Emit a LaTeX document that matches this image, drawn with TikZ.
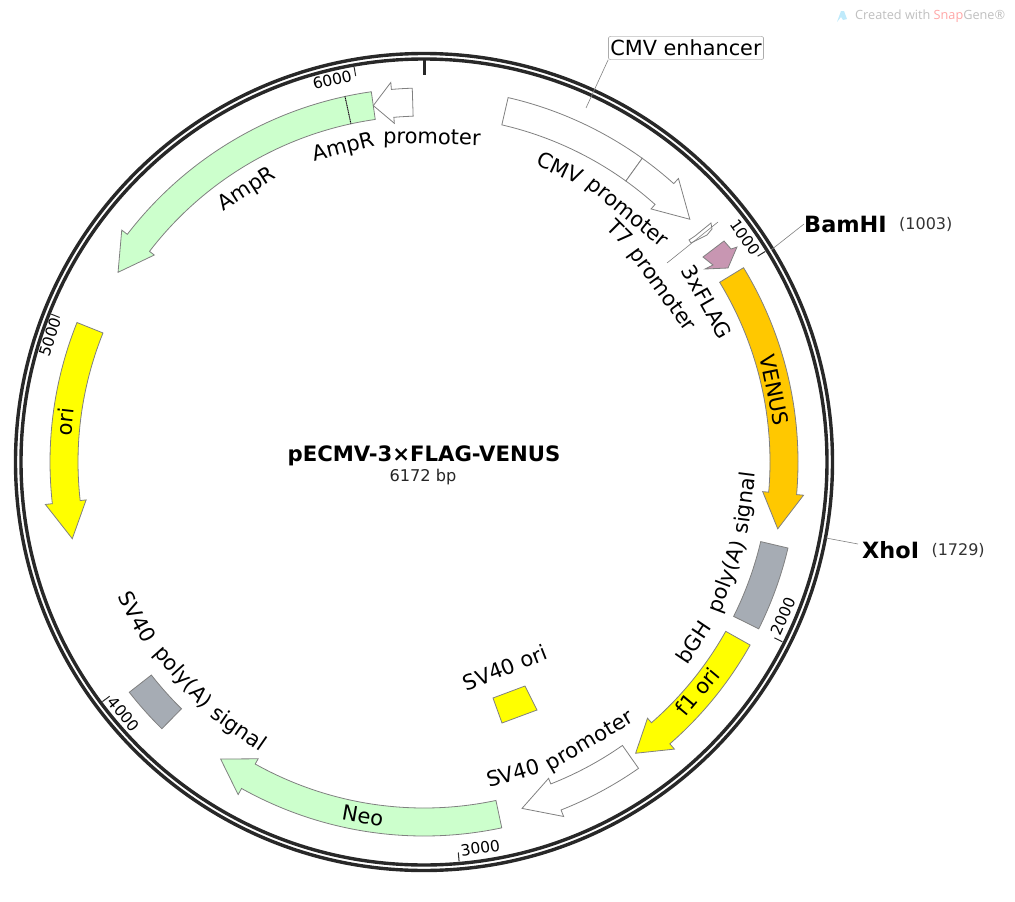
\documentclass[tikz,border=0pt]{standalone}
\usepackage{fontspec}
\setmainfont{DejaVu Sans}
\newfontfamily\markfont{Open Sans}
\usetikzlibrary{positioning}

\definecolor{ampgreen}{RGB}{204,255,204}
\definecolor{oriyellow}{RGB}{255,255,0}
\definecolor{venusorange}{RGB}{255,200,0}
\definecolor{polygray}{RGB}{166,172,180}
\definecolor{flagpink}{RGB}{200,150,178}
\definecolor{ringdark}{RGB}{40,40,40}

% arc with arrow head: start, end of body, tip, fill
\newcommand{\feature}[4]{%
\draw[feat,fill=#4] ({90-(#1)}:374) arc[start angle={90-(#1)},end angle={90-(#2)},radius=374]
  -- ({90-(#2)}:381) -- ({90-(#3)}:360) -- ({90-(#2)}:340) -- ({90-(#2)}:346)
  arc[start angle={90-(#2)},end angle={90-(#1)},radius=346] -- cycle;}
% arc without head
\newcommand{\band}[3]{%
\draw[feat,fill=#3] ({90-(#1)}:374) arc[start angle={90-(#1)},end angle={90-(#2)},radius=374]
  -- ({90-(#2)}:346) arc[start angle={90-(#2)},end angle={90-(#1)},radius=346] -- cycle;}
\newcommand{\toplabel}[4]{\node[lbl,rotate={-(#2)}] (#1) at ({90-(#2)}:#3) {#4};}
\newcommand{\botlabel}[4]{\node[lbl,rotate={180-(#2)}] (#1) at ({90-(#2)}:#3) {#4};}

\begin{document}
\begin{tikzpicture}[x=1pt,y=1pt,
  feat/.style={draw=black!50,line width=0.8pt,line join=miter},
  lbl/.style={inner sep=0pt,font=\fontsize{21}{25}\selectfont},
  ticklbl/.style={inner sep=0pt,font=\fontsize{15.5}{18}\selectfont},
  site/.style={inner sep=0pt,anchor=west,font=\fontsize{22.4}{26}\selectfont\bfseries},
  sitepos/.style={inner sep=0pt,anchor=west,font=\fontsize{16}{18}\selectfont,text=black!80},
  leader/.style={draw=black!50,line width=0.6pt},
  ring/.style={draw=ringdark,line width=3.4pt},
  tickmark/.style={draw=ringdark,line width=1pt}]
\useasboundingbox (0,0) rectangle (1015,-902);

\begin{scope}[shift={(424,-462)}]
% backbone
\draw[ring] (0,0) circle[radius=408.5];
\draw[ring] (0,0) circle[radius=403];
\draw[draw=ringdark,line width=3pt] (90:404) -- (90:387);
\foreach \bp in {1000,2000,3000,4000,5000,6000}
  \draw[tickmark] ({90-\bp/6172*360}:401) -- ({90-\bp/6172*360}:392);

\node[ticklbl,rotate=-55] (tick1000) at ({90-55}:392) {1000};
\node[ticklbl,rotate=66.8] (tick2000) at ({90-113.2}:391) {2000};
\node[ticklbl,rotate=8.3] (tick3000) at ({90-171.7}:390) {3000};
\node[ticklbl,rotate=-50] (tick4000) at ({90-230}:392) {4000};
\node[ticklbl,rotate=71.5] (tick5000) at ({90+71.5}:394) {5000};
\node[ticklbl,rotate=13.5] (tick6000) at ({90+13.5}:393) {6000};

% features
\band{-8.1}{-12.2}{ampgreen}
\feature{-12.2}{-52.5}{-58.2}{ampgreen}
\draw[densely dotted,line width=0.8pt] ({90+12.2}:374) -- ({90+12.2}:346);
\feature{-1.8}{-5}{-8.1}{white}
\band{13}{35.7}{white}
\feature{35.7}{41.9}{47.6}{white}
\feature{58.7}{95}{100.7}{venusorange}
\band{103.3}{116.5}{polygray}
\feature{119.3}{138.9}{144}{oriyellow}
\feature{145}{158.5}{164.2}{white}
\feature{168}{209.2}{214.4}{ampgreen}
\band{224.5}{232}{polygray}
\feature{-68.1}{-96.4}{-102.3}{oriyellow}

% labels on the arcs
\toplabel{amprA}{-33}{324.5}{AmpR}
\toplabel{apromA}{-14.3}{324}{AmpR}
\toplabel{apromB}{1.4}{323}{promoter}
\toplabel{cmvA}{24.8}{324}{CMV}
\toplabel{cmvB}{39.2}{321}{promoter}
\node[lbl,rotate=-45] (tsevA) at ({90-40.4}:302) {T7};
\toplabel{tsevB}{54.1}{293}{promoter}
\toplabel{flag}{60.5}{325}{3xFLAG}
\toplabel{venus}{78.4}{358}{VENUS}
\botlabel{bghA}{123.8}{324}{bGH}
\botlabel{bghB}{110.7}{325}{poly(A)}
\botlabel{bghC}{97.3}{324.6}{signal}
\botlabel{fone}{130}{357}{f1 ori}
\botlabel{svpA}{164}{323.5}{SV40}
\botlabel{svpB}{149.3}{325.5}{promoter}
\botlabel{svori}{158.5}{221}{SV40 ori}
\botlabel{neo}{189.8}{359}{Neo}
\botlabel{polyA}{241.6}{326}{SV40}
\botlabel{polyB}{228.2}{324}{poly(A)}
\botlabel{polyC}{214.8}{326}{signal}
\toplabel{ori}{-83.6}{361}{ori}
\end{scope}

% plain shapes
\draw[feat,fill=oriyellow] (493,-698) -- (525,-686) -- (537,-710) -- (502,-723) -- cycle;
\draw[feat,fill=flagpink] (703,-257) -- (724,-241) -- (731,-249) -- (737,-247) -- (728,-268) -- (705,-269) -- (713,-265) -- cycle;
\draw[feat,fill=white] (711,-223) -- (712,-229) -- (707,-235) -- (691,-243) -- (689,-240) -- (695,-236) -- cycle;

% leaders and sites
\coordinate (tsevin) at (667,-263);
\coordinate (tsevout) at (718,-222);
\draw[leader] (tsevin) -- (tsevout);

\node[draw=black!50,rounded corners=2pt,fill=white,inner xsep=2pt,inner ysep=2pt,
  minimum width=155pt,minimum height=23pt,font=\fontsize{20.8}{24}\selectfont] (cmvenh) at (686,-48) {CMV enhancer};
\coordinate (cmvenhend) at (586,-108);
\draw[leader] (cmvenh.south west) -- (cmvenhend);

\coordinate (bamsite) at (771,-250);
\node[site] (bamhi) at (804,-224) {BamHI};
\node[sitepos,right=12pt of bamhi.east] (bampos) {(1003)};
\draw[leader] (bamsite) -- (bamhi.west);

\coordinate (xhosite) at (826,-538);
\coordinate (xhoend) at (858,-544);
\node[site] (xhoi) at (862,-550) {XhoI};
\node[sitepos,right=12pt of xhoi.east] (xhopos) {(1729)};
\draw[leader] (xhosite) -- (xhoend);

% title
\node[inner sep=0pt,font=\fontsize{21.2}{25}\selectfont\bfseries] (title) at (424,-456) {pECMV-3×FLAG-VENUS};
\node[inner sep=0pt,font=\fontsize{16.2}{18}\selectfont,text=black!85] (size) at (423,-477) {6172 bp};

% watermark
\fill[cyan!25] (837,-22) -- (841,-11) -- (844,-11) -- (847,-19) -- (843,-20) -- (841,-17) -- cycle;
\node[inner sep=0pt,anchor=west,font=\fontsize{12.7}{14}\markfont,text=black!25] (mark) at (855,-16)
  {Created with \textcolor{red!35}{Snap}Gene®};
\end{tikzpicture}
\end{document}
